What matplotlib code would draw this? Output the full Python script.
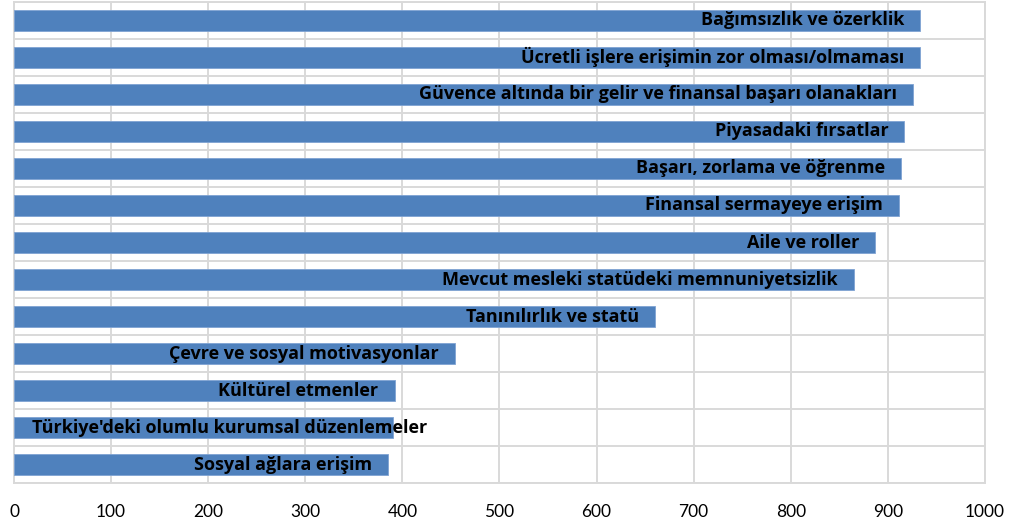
import matplotlib
matplotlib.use("Agg")
import matplotlib.pyplot as plt
import numpy as np

categories = ["Bağımsızlık ve özerklik",
              "Ücretli işlere erişimin zor olması/olmaması",
              "Güvence altında bir gelir ve finansal başarı olanakları",
              "Piyasadaki fırsatlar",
              "Başarı, zorlama ve öğrenme",
              "Finansal sermayeye erişim",
              "Aile ve roller",
              "Mevcut mesleki statüdeki memnuniyetsizlik",
              "Tanınılırlık ve statü",
              "Çevre ve sosyal motivasyonlar",
              "Kültürel etmenler",
              "Türkiye'deki olumlu kurumsal düzenlemeler",
              "Sosyal ağlara erişim"]
values = [933, 933, 926, 917, 914, 911, 887, 865, 660, 454, 392, 390, 385]
xticks = [0, 100, 200, 300, 400, 500, 600, 700, 800, 900, 1000]

grid_c = "#D9D9D9"
bar_c = "#4F81BD"

fig = plt.figure(figsize=(10.15, 5.31), dpi=100)
ax = fig.add_axes([0.0138, 0.0898, 0.9566, 0.907])

n = len(categories)
ypos = np.arange(n)[::-1]
ax.barh(ypos, values, height=0.56, color=bar_c, edgecolor="#7FA3D3",
        linewidth=0.6, zorder=3)

ax.set_xlim(0, 1000)
ax.set_ylim(-0.5, n - 0.5)
ax.set_xticks(xticks)
ax.set_xticklabels([str(t) for t in xticks], family="Lato", fontsize=12.5)
ax.set_yticks(np.arange(-0.5, n, 1.0))
ax.set_yticklabels([])
ax.tick_params(length=0)
ax.tick_params(axis="x", pad=15)
ax.grid(True, color=grid_c, linewidth=1.4, zorder=0)
for s in ax.spines.values():
    s.set_color(grid_c)
    s.set_linewidth(1.4)

fig.canvas.draw()
r = fig.canvas.get_renderer()
px = ax.transData.transform((1, 0))[0] - ax.transData.transform((0, 0))[0]
for y, v, lab in zip(ypos, values, categories):
    t = ax.text(v - 16 / px, y, lab, ha="right", va="center",
                family="Open Sans", fontweight="bold", fontsize=13,
                color="black", zorder=4)
    bb = t.get_window_extent(renderer=r)
    x0 = ax.transData.transform((0, 0))[0]
    # labels wider than their bar start near the axis and run past the bar
    if bb.x0 < x0 + 18:
        t.set_ha("left")
        t.set_x(18 / px)

fig.savefig("out.png", dpi=100)
